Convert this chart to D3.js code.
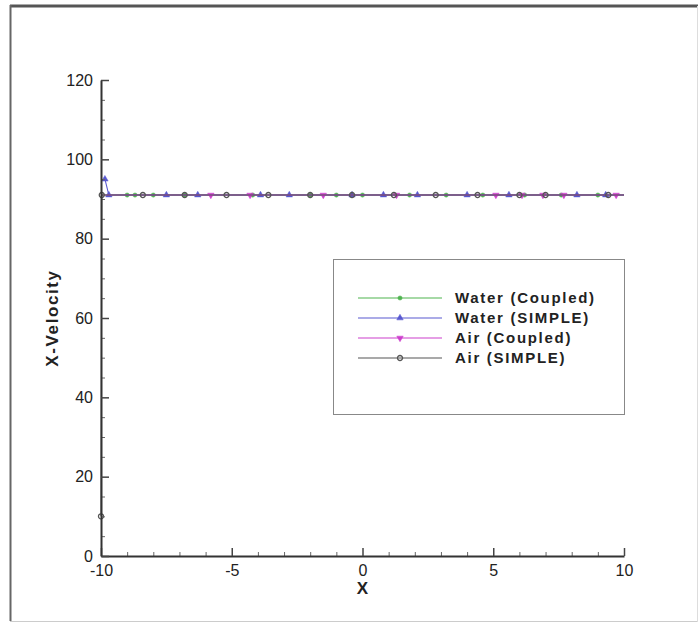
<!DOCTYPE html>
<html>
<head>
<meta charset="utf-8">
<script src="https://cdn.jsdelivr.net/npm/d3@7"></script>
<style>
body { margin: 0; background: #fff; }
text { font-family: "Liberation Sans", Arial, sans-serif; }
</style>
</head>
<body>
<div id="chart"></div>
<script>
// Data
var xTicks = [-10, -5, 0, 5, 10];
var yTicks = [0, 20, 40, 60, 80, 100, 120];

var waterCoupledX = [-10, -9.0, -8.7, -8.0, -6.8, -4.2, -2.0, -1.0, 0.0, 1.8, 3.2, 4.6, 6.2, 7.6, 9.0, 10];
var waterCoupledY = [91, 91, 91, 91, 91, 91, 91, 91, 91, 91, 91, 91, 91, 91, 91, 91];

var waterSimpleX = [-9.85, -9.7, -7.5, -6.3, -3.9, -2.8, -0.4, 0.8, 2.1, 4.0, 5.6, 8.2, 9.3, 10];
var waterSimpleY = [95, 91, 91, 91, 91, 91, 91, 91, 91, 91, 91, 91, 91, 91];

var airCoupledX = [-10, -5.8, -4.3, -1.5, 1.3, 5.1, 6.1, 6.9, 7.7, 9.7, 10];
var airCoupledY = [91, 91, 91, 91, 91, 91, 91, 91, 91, 91, 91];

var airSimpleX = [-10, -9.97, -8.4, -6.8, -5.2, -3.6, -2.0, -0.4, 1.2, 2.8, 4.4, 6.0, 7.0, 9.4, 10];
var airSimpleY = [10, 91, 91, 91, 91, 91, 91, 91, 91, 91, 91, 91, 91, 91, 91];

var series = [
  {name: "Water (Coupled)", xs: waterCoupledX, ys: waterCoupledY, color: "#4fb34f", symbol: "circle", filled: true},
  {name: "Water (SIMPLE)", xs: waterSimpleX, ys: waterSimpleY, color: "#5858d0", symbol: "up", filled: true},
  {name: "Air (Coupled)", xs: airCoupledX, ys: airCoupledY, color: "#cc3fcc", symbol: "down", filled: true},
  {name: "Air (SIMPLE)", xs: airSimpleX, ys: airSimpleY, color: "#555555", symbol: "ring", filled: false}
];

var width = 698, height = 624;
var margin = {left: 101, right: 74, top: 80, bottom: 68};

var svg = d3.select("#chart").append("svg")
  .attr("width", width)
  .attr("height", height);

// frame around the picture
svg.append("line").attr("x1", 10).attr("x2", 698).attr("y1", 6).attr("y2", 6)
  .attr("stroke", "#555").attr("stroke-width", 3);
svg.append("line").attr("x1", 10.5).attr("x2", 10.5).attr("y1", 5).attr("y2", 621)
  .attr("stroke", "#666").attr("stroke-width", 2);
svg.append("line").attr("x1", 10).attr("x2", 698).attr("y1", 621.5).attr("y2", 621.5)
  .attr("stroke", "#ccc").attr("stroke-width", 1);
svg.append("line").attr("x1", 697.5).attr("x2", 697.5).attr("y1", 6).attr("y2", 622)
  .attr("stroke", "#ddd").attr("stroke-width", 1);

var x = d3.scaleLinear().domain([-10, 10]).range([margin.left, width - margin.right]);
var y = d3.scaleLinear().domain([0, 120]).range([height - margin.bottom, margin.top]);

function symbolPath(kind) {
  if (kind == "circle") return d3.symbol().type(d3.symbolCircle).size(14)();
  if (kind == "ring") return d3.symbol().type(d3.symbolCircle).size(20)();
  return d3.symbol().type(d3.symbolTriangle).size(18)();
}

var line = d3.line().x(d => x(d[0])).y(d => y(d[1]));

// series lines and markers
series.forEach(function(s) {
  var pts = s.xs.map((v, i) => [v, s.ys[i]]);
  svg.append("path")
    .datum(pts)
    .attr("d", line)
    .attr("fill", "none")
    .attr("stroke", s.color)
    .attr("stroke-width", 1.1);
  svg.append("g").selectAll("path")
    .data(pts.filter(d => d[0] > -10 && d[0] < 10 || d[1] != 91))
    .enter().append("path")
    .attr("d", symbolPath(s.symbol))
    .attr("transform", d => "translate(" + x(d[0]) + "," + y(d[1]) + ")" + (s.symbol == "down" ? " rotate(180)" : ""))
    .attr("fill", s.filled ? s.color : "none")
    .attr("stroke", s.color)
    .attr("stroke-width", s.filled ? 0.5 : 1.3);
});

// axes, ticks point inwards
var minorX = d3.range(-10, 10.01, 1).filter(v => v % 5 != 0);
var minorY = d3.range(0, 120.01, 5).filter(v => v % 20 != 0);

svg.append("g")
  .attr("transform", "translate(0," + y(0) + ")")
  .call(d3.axisBottom(x).tickValues(minorX).tickSize(-4).tickSizeOuter(0).tickFormat(""))
  .call(g => g.select(".domain").remove())
  .selectAll("line").attr("stroke", "#666");

svg.append("g")
  .attr("transform", "translate(" + x(-10) + ",0)")
  .call(d3.axisLeft(y).tickValues(minorY).tickSize(-4).tickSizeOuter(0).tickFormat(""))
  .call(g => g.select(".domain").remove())
  .selectAll("line").attr("stroke", "#666");

var xAxis = svg.append("g")
  .attr("transform", "translate(0," + y(0) + ")")
  .call(d3.axisBottom(x).tickValues(xTicks).tickSize(-8).tickSizeOuter(0).tickPadding(9).tickFormat(d => String(d)));
xAxis.select(".domain").attr("stroke", "#333").attr("stroke-width", 2);
xAxis.selectAll("line").attr("stroke", "#444").attr("stroke-width", 1.5);
xAxis.selectAll("text").attr("font-size", 16).attr("fill", "#222").attr("font-family", "Liberation Sans, Arial, sans-serif");

var yAxis = svg.append("g")
  .attr("transform", "translate(" + x(-10) + ",0)")
  .call(d3.axisLeft(y).tickValues(yTicks).tickSize(-8).tickSizeOuter(0).tickPadding(8).tickFormat(d => String(d)));
yAxis.select(".domain").attr("stroke", "#333").attr("stroke-width", 2);
yAxis.selectAll("line").attr("stroke", "#444").attr("stroke-width", 1.5);
yAxis.selectAll("text").attr("font-size", 16).attr("fill", "#222").attr("font-family", "Liberation Sans, Arial, sans-serif");

// axis titles
svg.append("text")
  .attr("x", x(0)).attr("y", 594)
  .attr("text-anchor", "middle")
  .attr("font-size", 17).attr("font-weight", "bold").attr("fill", "#222")
  .text("X");

svg.append("text")
  .attr("transform", "translate(58," + y(60) + ") rotate(-90)")
  .attr("text-anchor", "middle")
  .attr("font-size", 17).attr("font-weight", "bold").attr("fill", "#222")
  .attr("letter-spacing", 1.6)
  .text("X-Velocity");

// legend
var legend = svg.append("g");
legend.append("rect")
  .attr("x", 333.5).attr("y", 259.5).attr("width", 291).attr("height", 155)
  .attr("fill", "#fff").attr("stroke", "#888").attr("stroke-width", 1);

series.forEach(function(s, i) {
  var ly = 298 + i * 20;
  legend.append("line")
    .attr("x1", 358).attr("x2", 442).attr("y1", ly).attr("y2", ly)
    .attr("stroke", s.color).attr("stroke-width", 1.2);
  legend.append("path")
    .attr("d", symbolPath(s.symbol))
    .attr("transform", "translate(400," + ly + ")" + (s.symbol == "down" ? " rotate(180)" : ""))
    .attr("fill", s.filled ? s.color : "none")
    .attr("stroke", s.color)
    .attr("stroke-width", s.filled ? 0.5 : 1.3);
  legend.append("text")
    .attr("x", 455).attr("y", ly + 5)
    .attr("font-size", 15).attr("font-weight", "bold").attr("fill", "#222")
    .attr("letter-spacing", 1.7)
    .text(s.name);
});
</script>
</body>
</html>
